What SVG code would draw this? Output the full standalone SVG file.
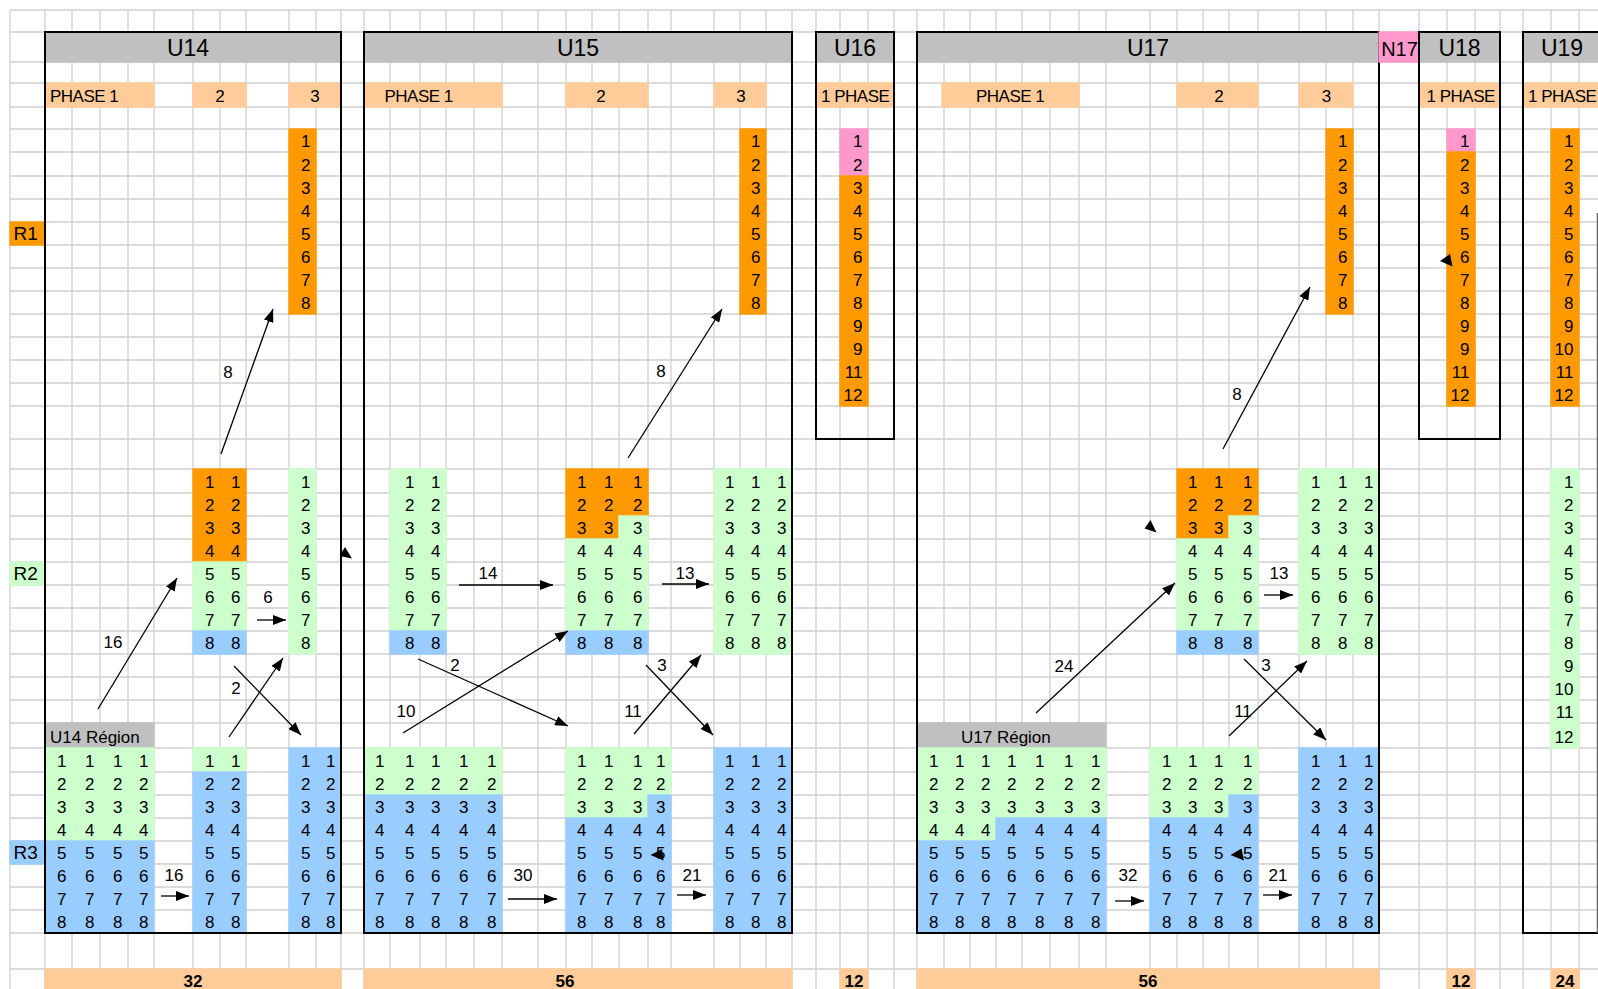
<svg xmlns="http://www.w3.org/2000/svg" width="1598" height="989" viewBox="0 0 1598 989">
<defs>
<style>
text{font-family:"Liberation Sans",Arial,sans-serif;font-size:17px;fill:#000}
.n text{text-anchor:end}
.hd{fill:#C0C0C0;stroke:#C0C0C0;stroke-width:1.4}
.ph{fill:#FFCC99;stroke:#FFCC99;stroke-width:1.4}
.o{fill:#FF9900;stroke:#FF9900;stroke-width:1.4}
.g{fill:#CCFFCC;stroke:#CCFFCC;stroke-width:1.4}
.b{fill:#99CCFF;stroke:#99CCFF;stroke-width:1.4}
.k{fill:#FF99CC;stroke:#FF99CC;stroke-width:1.4}
.f{fill:none;stroke:#000;stroke-width:2}
.ht{font-size:23px;text-anchor:middle}
.pt{letter-spacing:-0.5px}
.m{text-anchor:middle}
.tot{font-weight:bold;text-anchor:middle}
.rl{font-size:19px}
#connectors line{stroke:#000;stroke-width:1.3;marker-end:url(#ah)}
#connectors polygon{fill:#000}
</style>
<marker id="ah" markerUnits="userSpaceOnUse" markerWidth="13" markerHeight="10" refX="13" refY="5" orient="auto" viewBox="0 0 13 10"><path d="M0,0L13,5L0,10Z" fill="#000"/></marker>
</defs>
<rect width="1598" height="989" fill="#fff"/>
<path id="grid" fill="none" stroke="#d0d0d0" stroke-width="1.3" d="M10 10V989M45 10V989M72 10V989M100 10V989M128 10V989M154 10V989M193 10V989M220 10V989M246 10V989M289 10V989M316 10V989M341 10V989M364 10V989M390 10V989M420 10V989M446 10V989M474 10V989M502 10V989M538 10V989M566 10V989M592 10V989M619 10V989M648 10V989M671 10V989M714 10V989M740 10V989M766 10V989M792 10V989M816 10V989M840 10V989M868 10V989M894 10V989M917 10V989M944 10V989M970 10V989M996 10V989M1022 10V989M1050 10V989M1079 10V989M1106 10V989M1150 10V989M1177 10V989M1203 10V989M1229 10V989M1258 10V989M1299 10V989M1326 10V989M1353 10V989M1379 10V989M1419 10V989M1447 10V989M1475 10V989M1500 10V989M1523 10V989M1551 10V989M1579 10V989M10 10H1598M10 32H1598M10 62H1598M10 83H1598M10 107H1598M10 129H1598M10 152H1598M10 176H1598M10 199H1598M10 222H1598M10 245H1598M10 268H1598M10 291H1598M10 314H1598M10 337H1598M10 360H1598M10 383H1598M10 406H1598M10 439H1598M10 469H1598M10 493H1598M10 516H1598M10 539H1598M10 562H1598M10 585H1598M10 608H1598M10 631H1598M10 654H1598M10 677H1598M10 700H1598M10 723H1598M10 748H1598M10 772H1598M10 795H1598M10 818H1598M10 841H1598M10 864H1598M10 887H1598M10 910H1598M10 933H1598M10 969H1598"/>

<g id="row-labels">
<rect class="o" x="10" y="222" width="35" height="23"/><text class="rl" x="13.5" y="239.5">R1</text>
<rect class="g" x="10" y="562" width="35" height="23"/><text class="rl" x="13.5" y="579.5">R2</text>
<rect class="b" x="10" y="841" width="35" height="23"/><text class="rl" x="13.5" y="858.5">R3</text>
</g>

<g id="U14">
<rect class="hd" x="45" y="32" width="296" height="30"/><text class="ht" x="188" y="56">U14</text>
<rect class="ph" x="45" y="83" width="109" height="24"/><text class="pt" x="50" y="102">PHASE 1</text>
<rect class="ph" x="193" y="83" width="53" height="24"/><text class="m" x="220" y="102">2</text>
<rect class="ph" x="289" y="83" width="52" height="24"/><text class="m" x="315" y="102">3</text>
<rect class="o" x="289" y="129" width="27" height="185"/>
<rect class="o" x="193" y="469" width="53" height="93"/>
<rect class="g" x="193" y="562" width="53" height="69"/>
<rect class="b" x="193" y="631" width="53" height="23"/>
<rect class="g" x="289" y="469" width="27" height="185"/>
<rect class="hd" x="45" y="723" width="109" height="25"/><text x="50" y="743">U14 Région</text>
<rect class="g" x="45" y="748" width="109" height="93"/>
<rect class="b" x="45" y="841" width="109" height="92"/>
<rect class="g" x="193" y="748" width="53" height="24"/>
<rect class="b" x="193" y="772" width="53" height="161"/>
<rect class="b" x="289" y="748" width="52" height="185"/>
<g class="n">
<text x="310.5" y="147">1</text><text x="310.5" y="171">2</text><text x="310.5" y="194">3</text><text x="310.5" y="217">4</text><text x="310.5" y="240">5</text><text x="310.5" y="263">6</text><text x="310.5" y="286">7</text><text x="310.5" y="309">8</text>
<text x="214.5" y="488">1</text><text x="214.5" y="511">2</text><text x="214.5" y="534">3</text><text x="214.5" y="557">4</text><text x="214.5" y="580">5</text><text x="214.5" y="603">6</text><text x="214.5" y="626">7</text><text x="214.5" y="649">8</text>
<text x="240.5" y="488">1</text><text x="240.5" y="511">2</text><text x="240.5" y="534">3</text><text x="240.5" y="557">4</text><text x="240.5" y="580">5</text><text x="240.5" y="603">6</text><text x="240.5" y="626">7</text><text x="240.5" y="649">8</text>
<text x="310.5" y="488">1</text><text x="310.5" y="511">2</text><text x="310.5" y="534">3</text><text x="310.5" y="557">4</text><text x="310.5" y="580">5</text><text x="310.5" y="603">6</text><text x="310.5" y="626">7</text><text x="310.5" y="649">8</text>
<text x="66.5" y="767">1</text><text x="66.5" y="790">2</text><text x="66.5" y="813">3</text><text x="66.5" y="836">4</text><text x="66.5" y="859">5</text><text x="66.5" y="882">6</text><text x="66.5" y="905">7</text><text x="66.5" y="928">8</text>
<text x="94.5" y="767">1</text><text x="94.5" y="790">2</text><text x="94.5" y="813">3</text><text x="94.5" y="836">4</text><text x="94.5" y="859">5</text><text x="94.5" y="882">6</text><text x="94.5" y="905">7</text><text x="94.5" y="928">8</text>
<text x="122.5" y="767">1</text><text x="122.5" y="790">2</text><text x="122.5" y="813">3</text><text x="122.5" y="836">4</text><text x="122.5" y="859">5</text><text x="122.5" y="882">6</text><text x="122.5" y="905">7</text><text x="122.5" y="928">8</text>
<text x="148.5" y="767">1</text><text x="148.5" y="790">2</text><text x="148.5" y="813">3</text><text x="148.5" y="836">4</text><text x="148.5" y="859">5</text><text x="148.5" y="882">6</text><text x="148.5" y="905">7</text><text x="148.5" y="928">8</text>
<text x="214.5" y="767">1</text><text x="214.5" y="790">2</text><text x="214.5" y="813">3</text><text x="214.5" y="836">4</text><text x="214.5" y="859">5</text><text x="214.5" y="882">6</text><text x="214.5" y="905">7</text><text x="214.5" y="928">8</text>
<text x="240.5" y="767">1</text><text x="240.5" y="790">2</text><text x="240.5" y="813">3</text><text x="240.5" y="836">4</text><text x="240.5" y="859">5</text><text x="240.5" y="882">6</text><text x="240.5" y="905">7</text><text x="240.5" y="928">8</text>
<text x="310.5" y="767">1</text><text x="310.5" y="790">2</text><text x="310.5" y="813">3</text><text x="310.5" y="836">4</text><text x="310.5" y="859">5</text><text x="310.5" y="882">6</text><text x="310.5" y="905">7</text><text x="310.5" y="928">8</text>
<text x="335.5" y="767">1</text><text x="335.5" y="790">2</text><text x="335.5" y="813">3</text><text x="335.5" y="836">4</text><text x="335.5" y="859">5</text><text x="335.5" y="882">6</text><text x="335.5" y="905">7</text><text x="335.5" y="928">8</text>
</g>
<rect class="ph" x="45" y="969" width="296" height="20"/><text class="tot" x="193" y="986.5">32</text>
<rect class="f" x="45" y="32" width="296" height="901"/>
</g>

<g id="U15">
<rect class="hd" x="364" y="32" width="428" height="30"/><text class="ht" x="578" y="56">U15</text>
<rect class="ph" x="364" y="83" width="138" height="24"/><text class="pt" x="384.5" y="102">PHASE 1</text>
<rect class="ph" x="566" y="83" width="82" height="24"/><text class="m" x="601" y="102">2</text>
<rect class="ph" x="714" y="83" width="52" height="24"/><text class="m" x="741" y="102">3</text>
<rect class="o" x="740" y="129" width="26" height="185"/>
<rect class="g" x="390" y="469" width="56" height="162"/>
<rect class="b" x="390" y="631" width="56" height="23"/>
<rect class="o" x="566" y="469" width="82" height="47"/>
<rect class="o" x="566" y="516" width="53" height="23"/>
<rect class="g" x="619" y="516" width="29" height="23"/>
<rect class="g" x="566" y="539" width="82" height="92"/>
<rect class="b" x="566" y="631" width="82" height="23"/>
<rect class="g" x="714" y="469" width="78" height="185"/>
<rect class="g" x="364" y="748" width="138" height="47"/>
<rect class="b" x="364" y="795" width="138" height="138"/>
<rect class="g" x="566" y="748" width="105" height="47"/>
<rect class="g" x="566" y="795" width="82" height="23"/>
<rect class="b" x="648" y="795" width="23" height="23"/>
<rect class="b" x="566" y="818" width="105" height="115"/>
<rect class="b" x="714" y="748" width="78" height="185"/>
<g class="n">
<text x="760.5" y="147">1</text><text x="760.5" y="171">2</text><text x="760.5" y="194">3</text><text x="760.5" y="217">4</text><text x="760.5" y="240">5</text><text x="760.5" y="263">6</text><text x="760.5" y="286">7</text><text x="760.5" y="309">8</text>
<text x="414.5" y="488">1</text><text x="414.5" y="511">2</text><text x="414.5" y="534">3</text><text x="414.5" y="557">4</text><text x="414.5" y="580">5</text><text x="414.5" y="603">6</text><text x="414.5" y="626">7</text><text x="414.5" y="649">8</text>
<text x="440.5" y="488">1</text><text x="440.5" y="511">2</text><text x="440.5" y="534">3</text><text x="440.5" y="557">4</text><text x="440.5" y="580">5</text><text x="440.5" y="603">6</text><text x="440.5" y="626">7</text><text x="440.5" y="649">8</text>
<text x="586.5" y="488">1</text><text x="586.5" y="511">2</text><text x="586.5" y="534">3</text><text x="586.5" y="557">4</text><text x="586.5" y="580">5</text><text x="586.5" y="603">6</text><text x="586.5" y="626">7</text><text x="586.5" y="649">8</text>
<text x="613.5" y="488">1</text><text x="613.5" y="511">2</text><text x="613.5" y="534">3</text><text x="613.5" y="557">4</text><text x="613.5" y="580">5</text><text x="613.5" y="603">6</text><text x="613.5" y="626">7</text><text x="613.5" y="649">8</text>
<text x="642.5" y="488">1</text><text x="642.5" y="511">2</text><text x="642.5" y="534">3</text><text x="642.5" y="557">4</text><text x="642.5" y="580">5</text><text x="642.5" y="603">6</text><text x="642.5" y="626">7</text><text x="642.5" y="649">8</text>
<text x="734.5" y="488">1</text><text x="734.5" y="511">2</text><text x="734.5" y="534">3</text><text x="734.5" y="557">4</text><text x="734.5" y="580">5</text><text x="734.5" y="603">6</text><text x="734.5" y="626">7</text><text x="734.5" y="649">8</text>
<text x="760.5" y="488">1</text><text x="760.5" y="511">2</text><text x="760.5" y="534">3</text><text x="760.5" y="557">4</text><text x="760.5" y="580">5</text><text x="760.5" y="603">6</text><text x="760.5" y="626">7</text><text x="760.5" y="649">8</text>
<text x="786.5" y="488">1</text><text x="786.5" y="511">2</text><text x="786.5" y="534">3</text><text x="786.5" y="557">4</text><text x="786.5" y="580">5</text><text x="786.5" y="603">6</text><text x="786.5" y="626">7</text><text x="786.5" y="649">8</text>
<text x="384.5" y="767">1</text><text x="384.5" y="790">2</text><text x="384.5" y="813">3</text><text x="384.5" y="836">4</text><text x="384.5" y="859">5</text><text x="384.5" y="882">6</text><text x="384.5" y="905">7</text><text x="384.5" y="928">8</text>
<text x="414.5" y="767">1</text><text x="414.5" y="790">2</text><text x="414.5" y="813">3</text><text x="414.5" y="836">4</text><text x="414.5" y="859">5</text><text x="414.5" y="882">6</text><text x="414.5" y="905">7</text><text x="414.5" y="928">8</text>
<text x="440.5" y="767">1</text><text x="440.5" y="790">2</text><text x="440.5" y="813">3</text><text x="440.5" y="836">4</text><text x="440.5" y="859">5</text><text x="440.5" y="882">6</text><text x="440.5" y="905">7</text><text x="440.5" y="928">8</text>
<text x="468.5" y="767">1</text><text x="468.5" y="790">2</text><text x="468.5" y="813">3</text><text x="468.5" y="836">4</text><text x="468.5" y="859">5</text><text x="468.5" y="882">6</text><text x="468.5" y="905">7</text><text x="468.5" y="928">8</text>
<text x="496.5" y="767">1</text><text x="496.5" y="790">2</text><text x="496.5" y="813">3</text><text x="496.5" y="836">4</text><text x="496.5" y="859">5</text><text x="496.5" y="882">6</text><text x="496.5" y="905">7</text><text x="496.5" y="928">8</text>
<text x="586.5" y="767">1</text><text x="586.5" y="790">2</text><text x="586.5" y="813">3</text><text x="586.5" y="836">4</text><text x="586.5" y="859">5</text><text x="586.5" y="882">6</text><text x="586.5" y="905">7</text><text x="586.5" y="928">8</text>
<text x="613.5" y="767">1</text><text x="613.5" y="790">2</text><text x="613.5" y="813">3</text><text x="613.5" y="836">4</text><text x="613.5" y="859">5</text><text x="613.5" y="882">6</text><text x="613.5" y="905">7</text><text x="613.5" y="928">8</text>
<text x="642.5" y="767">1</text><text x="642.5" y="790">2</text><text x="642.5" y="813">3</text><text x="642.5" y="836">4</text><text x="642.5" y="859">5</text><text x="642.5" y="882">6</text><text x="642.5" y="905">7</text><text x="642.5" y="928">8</text>
<text x="665.5" y="767">1</text><text x="665.5" y="790">2</text><text x="665.5" y="813">3</text><text x="665.5" y="836">4</text><text x="665.5" y="859">5</text><text x="665.5" y="882">6</text><text x="665.5" y="905">7</text><text x="665.5" y="928">8</text>
<text x="734.5" y="767">1</text><text x="734.5" y="790">2</text><text x="734.5" y="813">3</text><text x="734.5" y="836">4</text><text x="734.5" y="859">5</text><text x="734.5" y="882">6</text><text x="734.5" y="905">7</text><text x="734.5" y="928">8</text>
<text x="760.5" y="767">1</text><text x="760.5" y="790">2</text><text x="760.5" y="813">3</text><text x="760.5" y="836">4</text><text x="760.5" y="859">5</text><text x="760.5" y="882">6</text><text x="760.5" y="905">7</text><text x="760.5" y="928">8</text>
<text x="786.5" y="767">1</text><text x="786.5" y="790">2</text><text x="786.5" y="813">3</text><text x="786.5" y="836">4</text><text x="786.5" y="859">5</text><text x="786.5" y="882">6</text><text x="786.5" y="905">7</text><text x="786.5" y="928">8</text>
</g>
<rect class="ph" x="364" y="969" width="428" height="20"/><text class="tot" x="565" y="986.5">56</text>
<rect class="f" x="364" y="32" width="428" height="901"/>
</g>

<g id="U16">
<rect class="hd" x="816" y="32" width="78" height="30"/><text class="ht" x="855" y="56">U16</text>
<rect class="ph" x="816" y="83" width="78" height="24"/><text class="pt" x="821" y="102">1 PHASE</text>
<rect class="k" x="840" y="129" width="28" height="47"/>
<rect class="o" x="840" y="176" width="28" height="230"/>
<g class="n">
<text x="862.5" y="147">1</text><text x="862.5" y="171">2</text><text x="862.5" y="194">3</text><text x="862.5" y="217">4</text><text x="862.5" y="240">5</text><text x="862.5" y="263">6</text><text x="862.5" y="286">7</text><text x="862.5" y="309">8</text><text x="862.5" y="332">9</text><text x="862.5" y="355">9</text><text x="862.5" y="378">11</text><text x="862.5" y="401">12</text>
</g>
<rect class="ph" x="840" y="969" width="28" height="20"/><text class="tot" x="854" y="986.5">12</text>
<rect class="f" x="816" y="32" width="78" height="407"/>
</g>

<g id="U17">
<rect class="hd" x="917" y="32" width="462" height="30"/><text class="ht" x="1148" y="56">U17</text>
<rect class="ph" x="942" y="83" width="137" height="24"/><text class="pt" x="976" y="102">PHASE 1</text>
<rect class="ph" x="1177" y="83" width="81" height="24"/><text class="m" x="1219" y="102">2</text>
<rect class="ph" x="1299" y="83" width="54" height="24"/><text class="m" x="1326.5" y="102">3</text>
<rect class="o" x="1326" y="129" width="27" height="185"/>
<rect class="o" x="1177" y="469" width="81" height="47"/>
<rect class="o" x="1177" y="516" width="52" height="23"/>
<rect class="g" x="1229" y="516" width="29" height="23"/>
<rect class="g" x="1177" y="539" width="81" height="92"/>
<rect class="b" x="1177" y="631" width="81" height="23"/>
<rect class="g" x="1299" y="469" width="80" height="185"/>
<rect class="hd" x="917" y="723" width="189" height="25"/><text x="961" y="743">U17 Région</text>
<rect class="g" x="917" y="748" width="189" height="70"/>
<rect class="g" x="917" y="818" width="79" height="23"/>
<rect class="b" x="996" y="818" width="110" height="23"/>
<rect class="b" x="917" y="841" width="189" height="92"/>
<rect class="g" x="1150" y="748" width="108" height="47"/>
<rect class="g" x="1150" y="795" width="79" height="23"/>
<rect class="b" x="1229" y="795" width="29" height="23"/>
<rect class="b" x="1150" y="818" width="108" height="115"/>
<rect class="b" x="1299" y="748" width="80" height="185"/>
<g class="n">
<text x="1347.5" y="147">1</text><text x="1347.5" y="171">2</text><text x="1347.5" y="194">3</text><text x="1347.5" y="217">4</text><text x="1347.5" y="240">5</text><text x="1347.5" y="263">6</text><text x="1347.5" y="286">7</text><text x="1347.5" y="309">8</text>
<text x="1197.5" y="488">1</text><text x="1197.5" y="511">2</text><text x="1197.5" y="534">3</text><text x="1197.5" y="557">4</text><text x="1197.5" y="580">5</text><text x="1197.5" y="603">6</text><text x="1197.5" y="626">7</text><text x="1197.5" y="649">8</text>
<text x="1223.5" y="488">1</text><text x="1223.5" y="511">2</text><text x="1223.5" y="534">3</text><text x="1223.5" y="557">4</text><text x="1223.5" y="580">5</text><text x="1223.5" y="603">6</text><text x="1223.5" y="626">7</text><text x="1223.5" y="649">8</text>
<text x="1252.5" y="488">1</text><text x="1252.5" y="511">2</text><text x="1252.5" y="534">3</text><text x="1252.5" y="557">4</text><text x="1252.5" y="580">5</text><text x="1252.5" y="603">6</text><text x="1252.5" y="626">7</text><text x="1252.5" y="649">8</text>
<text x="1320.5" y="488">1</text><text x="1320.5" y="511">2</text><text x="1320.5" y="534">3</text><text x="1320.5" y="557">4</text><text x="1320.5" y="580">5</text><text x="1320.5" y="603">6</text><text x="1320.5" y="626">7</text><text x="1320.5" y="649">8</text>
<text x="1347.5" y="488">1</text><text x="1347.5" y="511">2</text><text x="1347.5" y="534">3</text><text x="1347.5" y="557">4</text><text x="1347.5" y="580">5</text><text x="1347.5" y="603">6</text><text x="1347.5" y="626">7</text><text x="1347.5" y="649">8</text>
<text x="1373.5" y="488">1</text><text x="1373.5" y="511">2</text><text x="1373.5" y="534">3</text><text x="1373.5" y="557">4</text><text x="1373.5" y="580">5</text><text x="1373.5" y="603">6</text><text x="1373.5" y="626">7</text><text x="1373.5" y="649">8</text>
<text x="938.5" y="767">1</text><text x="938.5" y="790">2</text><text x="938.5" y="813">3</text><text x="938.5" y="836">4</text><text x="938.5" y="859">5</text><text x="938.5" y="882">6</text><text x="938.5" y="905">7</text><text x="938.5" y="928">8</text>
<text x="964.5" y="767">1</text><text x="964.5" y="790">2</text><text x="964.5" y="813">3</text><text x="964.5" y="836">4</text><text x="964.5" y="859">5</text><text x="964.5" y="882">6</text><text x="964.5" y="905">7</text><text x="964.5" y="928">8</text>
<text x="990.5" y="767">1</text><text x="990.5" y="790">2</text><text x="990.5" y="813">3</text><text x="990.5" y="836">4</text><text x="990.5" y="859">5</text><text x="990.5" y="882">6</text><text x="990.5" y="905">7</text><text x="990.5" y="928">8</text>
<text x="1016.5" y="767">1</text><text x="1016.5" y="790">2</text><text x="1016.5" y="813">3</text><text x="1016.5" y="836">4</text><text x="1016.5" y="859">5</text><text x="1016.5" y="882">6</text><text x="1016.5" y="905">7</text><text x="1016.5" y="928">8</text>
<text x="1044.5" y="767">1</text><text x="1044.5" y="790">2</text><text x="1044.5" y="813">3</text><text x="1044.5" y="836">4</text><text x="1044.5" y="859">5</text><text x="1044.5" y="882">6</text><text x="1044.5" y="905">7</text><text x="1044.5" y="928">8</text>
<text x="1073.5" y="767">1</text><text x="1073.5" y="790">2</text><text x="1073.5" y="813">3</text><text x="1073.5" y="836">4</text><text x="1073.5" y="859">5</text><text x="1073.5" y="882">6</text><text x="1073.5" y="905">7</text><text x="1073.5" y="928">8</text>
<text x="1100.5" y="767">1</text><text x="1100.5" y="790">2</text><text x="1100.5" y="813">3</text><text x="1100.5" y="836">4</text><text x="1100.5" y="859">5</text><text x="1100.5" y="882">6</text><text x="1100.5" y="905">7</text><text x="1100.5" y="928">8</text>
<text x="1171.5" y="767">1</text><text x="1171.5" y="790">2</text><text x="1171.5" y="813">3</text><text x="1171.5" y="836">4</text><text x="1171.5" y="859">5</text><text x="1171.5" y="882">6</text><text x="1171.5" y="905">7</text><text x="1171.5" y="928">8</text>
<text x="1197.5" y="767">1</text><text x="1197.5" y="790">2</text><text x="1197.5" y="813">3</text><text x="1197.5" y="836">4</text><text x="1197.5" y="859">5</text><text x="1197.5" y="882">6</text><text x="1197.5" y="905">7</text><text x="1197.5" y="928">8</text>
<text x="1223.5" y="767">1</text><text x="1223.5" y="790">2</text><text x="1223.5" y="813">3</text><text x="1223.5" y="836">4</text><text x="1223.5" y="859">5</text><text x="1223.5" y="882">6</text><text x="1223.5" y="905">7</text><text x="1223.5" y="928">8</text>
<text x="1252.5" y="767">1</text><text x="1252.5" y="790">2</text><text x="1252.5" y="813">3</text><text x="1252.5" y="836">4</text><text x="1252.5" y="859">5</text><text x="1252.5" y="882">6</text><text x="1252.5" y="905">7</text><text x="1252.5" y="928">8</text>
<text x="1320.5" y="767">1</text><text x="1320.5" y="790">2</text><text x="1320.5" y="813">3</text><text x="1320.5" y="836">4</text><text x="1320.5" y="859">5</text><text x="1320.5" y="882">6</text><text x="1320.5" y="905">7</text><text x="1320.5" y="928">8</text>
<text x="1347.5" y="767">1</text><text x="1347.5" y="790">2</text><text x="1347.5" y="813">3</text><text x="1347.5" y="836">4</text><text x="1347.5" y="859">5</text><text x="1347.5" y="882">6</text><text x="1347.5" y="905">7</text><text x="1347.5" y="928">8</text>
<text x="1373.5" y="767">1</text><text x="1373.5" y="790">2</text><text x="1373.5" y="813">3</text><text x="1373.5" y="836">4</text><text x="1373.5" y="859">5</text><text x="1373.5" y="882">6</text><text x="1373.5" y="905">7</text><text x="1373.5" y="928">8</text>
</g>
<rect class="ph" x="917" y="969" width="462" height="20"/><text class="tot" x="1148" y="986.5">56</text>
<rect class="f" x="917" y="32" width="462" height="901"/>
</g>

<g id="N17">
<rect class="k" x="1379" y="32" width="40" height="30"/><text class="m" style="font-size:20px" x="1399.5" y="56">N17</text>
</g>

<g id="U18">
<rect class="hd" x="1419" y="32" width="81" height="30"/><text class="ht" x="1459.5" y="56">U18</text>
<rect class="ph" x="1419" y="83" width="81" height="24"/><text class="pt" x="1426.5" y="102">1 PHASE</text>
<rect class="k" x="1447" y="129" width="28" height="23"/>
<rect class="o" x="1447" y="152" width="28" height="254"/>
<g class="n">
<text x="1469.5" y="147">1</text><text x="1469.5" y="171">2</text><text x="1469.5" y="194">3</text><text x="1469.5" y="217">4</text><text x="1469.5" y="240">5</text><text x="1469.5" y="263">6</text><text x="1469.5" y="286">7</text><text x="1469.5" y="309">8</text><text x="1469.5" y="332">9</text><text x="1469.5" y="355">9</text><text x="1469.5" y="378">11</text><text x="1469.5" y="401">12</text>
</g>
<rect class="ph" x="1447" y="969" width="28" height="20"/><text class="tot" x="1461" y="986.5">12</text>
<rect class="f" x="1419" y="32" width="81" height="407"/>
</g>

<g id="U19">
<rect class="hd" x="1523" y="32" width="77" height="30"/><text class="ht" x="1562" y="56">U19</text>
<rect class="ph" x="1523" y="83" width="77" height="24"/><text class="pt" x="1528" y="102">1 PHASE</text>
<rect class="o" x="1551" y="129" width="28" height="277"/>
<rect class="g" x="1551" y="469" width="28" height="279"/>
<g class="n">
<text x="1573.5" y="147">1</text><text x="1573.5" y="171">2</text><text x="1573.5" y="194">3</text><text x="1573.5" y="217">4</text><text x="1573.5" y="240">5</text><text x="1573.5" y="263">6</text><text x="1573.5" y="286">7</text><text x="1573.5" y="309">8</text><text x="1573.5" y="332">9</text><text x="1573.5" y="355">10</text><text x="1573.5" y="378">11</text><text x="1573.5" y="401">12</text>
<text x="1573.5" y="488">1</text><text x="1573.5" y="511">2</text><text x="1573.5" y="534">3</text><text x="1573.5" y="557">4</text><text x="1573.5" y="580">5</text><text x="1573.5" y="603">6</text><text x="1573.5" y="626">7</text><text x="1573.5" y="649">8</text><text x="1573.5" y="672">9</text><text x="1573.5" y="695">10</text><text x="1573.5" y="718">11</text><text x="1573.5" y="743">12</text>
</g>
<rect class="ph" x="1551" y="969" width="28" height="20"/><text class="tot" x="1565" y="986.5">24</text>
<path class="f" d="M1600 32H1523V933H1600"/>
<path fill="none" stroke="#666" stroke-width="1.5" d="M1597.5 213V933"/>
</g>

<g id="connectors">
<line x1="221" y1="454" x2="273" y2="309"/>
<line x1="98" y1="709" x2="177" y2="578"/>
<line x1="257" y1="620" x2="286" y2="620"/>
<line x1="234" y1="666" x2="301" y2="735"/>
<line x1="229" y1="737" x2="283" y2="658"/>
<line x1="161" y1="896" x2="189" y2="896"/>
<line x1="628" y1="458" x2="722" y2="309"/>
<line x1="459" y1="585" x2="553" y2="585"/>
<line x1="662" y1="584" x2="709" y2="584"/>
<line x1="418" y1="659" x2="568" y2="726"/>
<line x1="403" y1="733" x2="568" y2="631"/>
<line x1="646" y1="665" x2="713" y2="735"/>
<line x1="634" y1="734" x2="701" y2="655"/>
<line x1="508" y1="899" x2="557" y2="899"/>
<line x1="677" y1="895" x2="706" y2="895"/>
<line x1="1223" y1="449" x2="1310" y2="287"/>
<line x1="1036" y1="713" x2="1175" y2="583"/>
<line x1="1264" y1="595" x2="1293" y2="595"/>
<line x1="1244" y1="659" x2="1326" y2="740"/>
<line x1="1229" y1="736" x2="1307" y2="661"/>
<line x1="1115" y1="901" x2="1144" y2="901"/>
<line x1="1263" y1="895" x2="1292" y2="895"/>
<polygon points="345,547 339.5,556 352,558.5"/>
<polygon points="650.5,855 662,849 663.5,860.5"/>
<polygon points="1150.5,520 1144.5,528.5 1156.5,532.5"/>
<polygon points="1230.5,855 1241.5,848.5 1244,860.5"/>
<polygon points="1440,261 1450,254 1452.5,266.5"/>
<text class="m" x="228" y="377.5">8</text>
<text class="m" x="113" y="648">16</text>
<text class="m" x="268" y="603">6</text>
<text class="m" x="236" y="694">2</text>
<text class="m" x="174" y="881">16</text>
<text class="m" x="661" y="377">8</text>
<text class="m" x="488" y="579">14</text>
<text class="m" x="685" y="579">13</text>
<text class="m" x="455" y="671">2</text>
<text class="m" x="406" y="717">10</text>
<text class="m" x="662" y="671">3</text>
<text class="m" x="633" y="717">11</text>
<text class="m" x="523" y="881">30</text>
<text class="m" x="692" y="881">21</text>
<text class="m" x="1237" y="400">8</text>
<text class="m" x="1064" y="672">24</text>
<text class="m" x="1279" y="579">13</text>
<text class="m" x="1266" y="671">3</text>
<text class="m" x="1243" y="717">11</text>
<text class="m" x="1128" y="881">32</text>
<text class="m" x="1278" y="881">21</text>
</g>
</svg>
